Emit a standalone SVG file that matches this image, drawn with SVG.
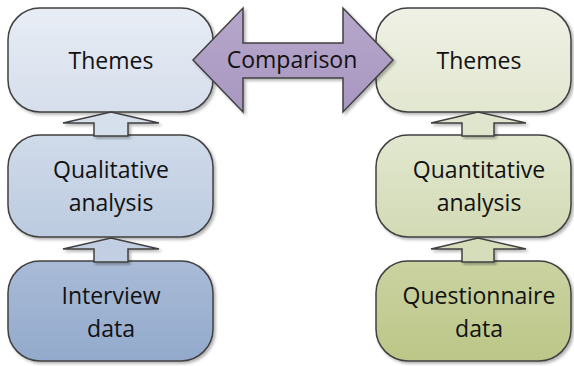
<svg xmlns="http://www.w3.org/2000/svg" width="574" height="366" viewBox="0 0 574 366">
  <defs>
    <linearGradient id="gBlue1" x1="0" y1="0" x2="0" y2="1">
      <stop offset="0" stop-color="#e8edf5"/>
      <stop offset="1" stop-color="#d6deec"/>
    </linearGradient>
    <linearGradient id="gBlue2" x1="0" y1="0" x2="0" y2="1">
      <stop offset="0" stop-color="#d0dbea"/>
      <stop offset="1" stop-color="#bccbe0"/>
    </linearGradient>
    <linearGradient id="gBlue3" x1="0" y1="0" x2="0" y2="1">
      <stop offset="0" stop-color="#a9bbd7"/>
      <stop offset="1" stop-color="#93aacc"/>
    </linearGradient>
    <linearGradient id="gGreen1" x1="0" y1="0" x2="0" y2="1">
      <stop offset="0" stop-color="#eff1e5"/>
      <stop offset="1" stop-color="#e2e7d0"/>
    </linearGradient>
    <linearGradient id="gGreen2" x1="0" y1="0" x2="0" y2="1">
      <stop offset="0" stop-color="#e2e8cf"/>
      <stop offset="1" stop-color="#d2dab5"/>
    </linearGradient>
    <linearGradient id="gGreen3" x1="0" y1="0" x2="0" y2="1">
      <stop offset="0" stop-color="#cbd3a2"/>
      <stop offset="1" stop-color="#bbc687"/>
    </linearGradient>
    <linearGradient id="gPurple" x1="0" y1="0" x2="0" y2="1">
      <stop offset="0" stop-color="#b6a7cb"/>
      <stop offset="1" stop-color="#a897c1"/>
    </linearGradient>
    <filter id="shadow" x="-10%" y="-10%" width="125%" height="125%">
      <feDropShadow dx="2" dy="2" stdDeviation="1.5" flood-color="#000" flood-opacity="0.3"/>
    </filter>
  </defs>
  <style>
    .box { stroke: #404040; stroke-width: 1.5; filter: url(#shadow); }
    .arrow { stroke: #404040; stroke-width: 1.5; stroke-linejoin: miter; filter: url(#shadow); }
    .label { font-family: "Open Sans", "Noto Sans", sans-serif; font-size: 23px; fill: #111; text-anchor: middle; }
  </style>

  <!-- left column -->
  <g id="themes-left">
    <rect class="box" x="8" y="8" width="205" height="104" rx="32" fill="url(#gBlue1)"/>
    <text class="label" x="111" y="69">Themes</text>
  </g>
  <g id="qualitative-analysis">
    <rect class="box" x="8" y="135" width="205" height="102" rx="32" fill="url(#gBlue2)"/>
    <text class="label" x="111" y="178">Qualitative</text>
    <text class="label" x="111" y="211">analysis</text>
  </g>
  <g id="interview-data">
    <rect class="box" x="8" y="261" width="205" height="100" rx="32" fill="url(#gBlue3)"/>
    <text class="label" x="111" y="304">Interview</text>
    <text class="label" x="111" y="337">data</text>
  </g>

  <!-- right column -->
  <g id="themes-right">
    <rect class="box" x="376" y="8" width="195" height="104" rx="32" fill="url(#gGreen1)"/>
    <text class="label" x="479" y="69">Themes</text>
  </g>
  <g id="quantitative-analysis">
    <rect class="box" x="376" y="135" width="195" height="102" rx="32" fill="url(#gGreen2)"/>
    <text class="label" x="479" y="178">Quantitative</text>
    <text class="label" x="479" y="211">analysis</text>
  </g>
  <g id="questionnaire-data">
    <rect class="box" x="376" y="261" width="195" height="100" rx="32" fill="url(#gGreen3)"/>
    <text class="label" x="479" y="304">Questionnaire</text>
    <text class="label" x="479" y="337">data</text>
  </g>

  <!-- connectors, drawn over the boxes -->
  <g id="connectors">
    <!-- left column up arrows -->
    <path class="arrow" fill="#d6dfec" d="M94,136 V123 H63 L111,112 L159,123 H128 V136 Z"/>
    <path class="arrow" fill="#c2cfe3" d="M94,262 V249 H63 L111,238 L159,249 H128 V262 Z"/>
    <!-- right column up arrows -->
    <path class="arrow" fill="#e0e6cd" d="M462,136 V123 H431 L478,112 L526,123 H494 V136 Z"/>
    <path class="arrow" fill="#d6ddbb" d="M462,262 V249 H431 L478,238 L526,249 H494 V262 Z"/>
    <!-- comparison double arrow -->
    <g id="comparison">
      <path class="arrow" fill="url(#gPurple)" d="M193,60 L243,8 V43 H343 V8 L393,60 L343,112 V78 H243 V112 Z"/>
      <text class="label" x="292" y="68">Comparison</text>
    </g>
  </g>
</svg>
